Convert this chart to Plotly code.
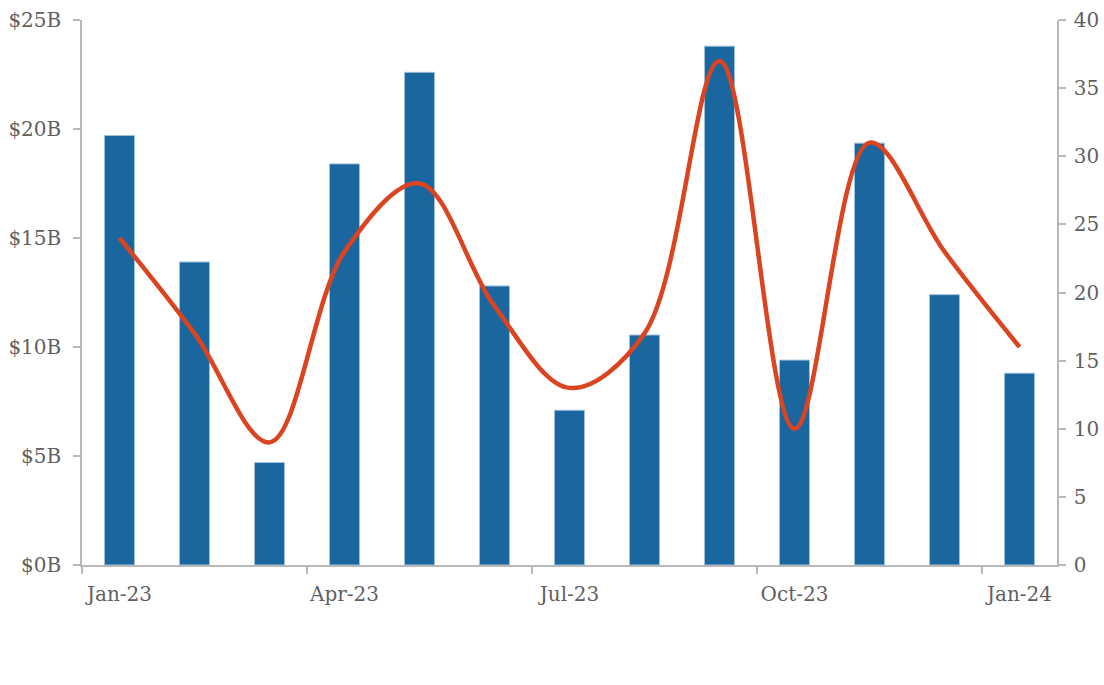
import plotly.graph_objects as go

# Monthly deal value (bars, $B) and deal count (line)
months = ["Jan-23", "Feb-23", "Mar-23", "Apr-23", "May-23", "Jun-23", "Jul-23",
          "Aug-23", "Sep-23", "Oct-23", "Nov-23", "Dec-23", "Jan-24"]
value_bn = [19.7, 13.9, 4.7, 18.4, 22.6, 12.8, 7.1, 10.55, 23.8, 9.4, 19.35, 12.4, 8.8]
deal_count = [24, 17, 9, 23, 28, 19, 13, 17, 37, 10, 31, 23, 16]

left_ticks = [0, 5, 10, 15, 20, 25]
left_labels = ["$0B", "$5B", "$10B", "$15B", "$20B", "$25B"]
right_ticks = [0, 5, 10, 15, 20, 25, 30, 35, 40]
label_months = ["Jan-23", "Apr-23", "Jul-23", "Oct-23", "Jan-24"]

pos = list(range(len(months)))
label_pos = [months.index(m) for m in label_months]
boundary_pos = [p - 0.5 for p in label_pos]

FONT = "DejaVu Serif"
TXT = "#5f5f5f"
AX = "#b8b8b8"
xr = [-0.5, len(months) - 0.5]

fig = go.Figure()
fig.add_trace(go.Bar(
    x=pos, y=value_bn, width=0.4,
    marker=dict(color="#1a67a0", line=dict(color="#9fc0da", width=1)),
    xaxis="x", yaxis="y", hoverinfo="skip",
))
fig.add_trace(go.Scatter(
    x=pos, y=deal_count, mode="lines",
    line=dict(color="#da4420", width=4.5, shape="spline", smoothing=1.0),
    xaxis="x2", yaxis="y2", hoverinfo="skip",
))

fig.update_layout(
    width=1104, height=685,
    margin=dict(l=82, r=47, t=20, b=120, autoexpand=False),
    paper_bgcolor="white", plot_bgcolor="white",
    showlegend=False,
    font=dict(family=FONT, color=TXT, size=20),
    xaxis=dict(
        range=xr, tickmode="array", tickvals=label_pos, ticktext=label_months,
        ticks="", showgrid=False, zeroline=False, automargin=False,
        showline=True, linecolor=AX, linewidth=1.5,
        tickfont=dict(family=FONT, size=20, color=TXT),
        ticklabelstandoff=10,
    ),
    xaxis2=dict(
        range=xr, overlaying="x", anchor="y", side="bottom",
        tickmode="array", tickvals=boundary_pos, showticklabels=False,
        ticks="outside", ticklen=8, tickcolor=AX, tickwidth=1.5,
        showgrid=False, zeroline=False, showline=False, automargin=False,
    ),
    yaxis=dict(
        range=[0, 25], tickmode="array", tickvals=left_ticks, ticktext=left_labels,
        ticks="outside", ticklen=7, tickcolor=AX, tickwidth=1.5,
        showgrid=False, zeroline=False, showline=True, linecolor=AX, linewidth=1.5,
        tickfont=dict(family=FONT, size=20, color=TXT), automargin=False,
        ticklabelstandoff=8,
    ),
    yaxis2=dict(
        range=[0, 40], tickmode="array", tickvals=right_ticks,
        overlaying="y", side="right", anchor="x2",
        ticks="outside", ticklen=7, tickcolor=AX, tickwidth=1.5,
        showgrid=False, zeroline=False, showline=True, linecolor=AX, linewidth=1.5,
        tickfont=dict(family=FONT, size=20, color=TXT), automargin=False,
        ticklabelstandoff=4,
    ),
)

fig.write_html("out.html")
